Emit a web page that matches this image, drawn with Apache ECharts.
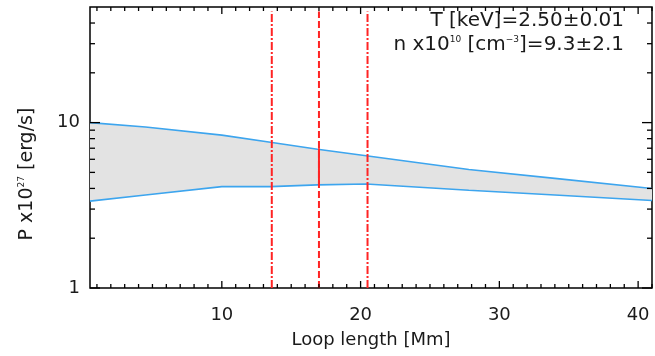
<!DOCTYPE html>
<html>
<head>
<meta charset="utf-8">
<script src="https://cdn.jsdelivr.net/npm/echarts@6/dist/echarts.min.js"></script>
<style>
  html, body { margin: 0; padding: 0; background: #fff; }
  #chart { width: 655px; height: 356px; }
</style>
</head>
<body>
<div id="chart"></div>
<script>
// loop length samples [Mm] and band edges P x10^27 [erg/s]
const loopLen = [0.5, 4.5, 10, 13.5, 16.9, 20.4, 27.8, 34, 41];
const powerUpper = [10.0, 9.4, 8.4, 7.6, 6.9, 6.3, 5.2, 4.6, 4.0];
const powerLower = [3.35, 3.65, 4.1, 4.1, 4.2, 4.25, 3.9, 3.65, 3.38];

// red vertical markers
const markLeft = 13.6;
const markMid = 17.0;
const markRight = 20.5;
const markSpan = [1, 47];
const midSolid = [4.2, 7.0];

// ticks
const xMajor = [10, 20, 30, 40];
const xMinor = [];
for (let i = 1; i <= 41; i++) if (i % 10 !== 0) xMinor.push(i);
const yMajor = [1, 10];
const yMinor = [2, 3, 4, 5, 6, 7, 8, 9, 20, 30, 40];

const xMin = 0.5, xMax = 41, yMin = 1, yMax = 50;

const FONT = "DejaVu Sans";
const ink = "#1a1a1a";
const blue = "#3da5ee";
const red = "#ff2424";

const chart = echarts.init(document.getElementById("chart"), null, { renderer: "canvas" });

function vline(x, y0, y1, type) {
  return {
    type: "line", symbol: "none", silent: true, z: 5,
    data: [[x, y0], [x, y1]],
    lineStyle: { color: red, width: 2, type: type }
  };
}

// all the inward ticks on the four sides, placed through the axis scales
function drawTicks(params, api) {
  const kids = [];
  const st = { stroke: "#000", lineWidth: 1.3 };
  function seg(a, b) {
    kids.push({ type: "line", shape: { x1: a[0], y1: a[1], x2: b[0], y2: b[1] }, style: st });
  }
  function xt(v, len) {
    const b = api.coord([v, yMin]), t = api.coord([v, yMax]);
    seg([b[0], b[1]], [b[0], b[1] - len]);
    seg([t[0], t[1]], [t[0], t[1] + len]);
  }
  function yt(v, len) {
    const l = api.coord([xMin, v]), r = api.coord([xMax, v]);
    seg([l[0], l[1]], [l[0] + len, l[1]]);
    seg([r[0], r[1]], [r[0] - len, r[1]]);
  }
  xMajor.forEach(v => xt(v, 7));
  xMinor.forEach(v => xt(v, 4));
  yMajor.forEach(v => yt(v, 10));
  yMinor.forEach(v => yt(v, 5));
  return { type: "group", children: kids };
}

function drawBand(params, api) {
  const pts = [];
  loopLen.forEach((x, i) => pts.push(api.coord([x, powerUpper[i]])));
  for (let i = loopLen.length - 1; i >= 0; i--) pts.push(api.coord([loopLen[i], powerLower[i]]));
  return { type: "polygon", shape: { points: pts }, style: { fill: "#e3e3e3" } };
}

chart.setOption({
  animation: false,
  backgroundColor: "#fff",
  grid: { left: 90, right: 3, top: 7, bottom: 68, show: true, borderColor: "#000", borderWidth: 1.5, backgroundColor: "transparent" },
  xAxis: {
    type: "value", min: xMin, max: xMax,
    axisLine: { show: false },
    axisTick: { show: false },
    axisLabel: { show: true, customValues: xMajor, fontSize: 18, fontFamily: FONT, color: ink, margin: 18 },
    splitLine: { show: false },
    name: "Loop length [Mm]",
    nameLocation: "middle",
    nameGap: 43,
    nameTextStyle: { fontSize: 18, fontFamily: FONT, color: ink }
  },
  yAxis: {
    type: "log", logBase: 10, min: yMin, max: yMax,
    axisLine: { show: false },
    axisTick: { show: false },
    axisLabel: { show: true, customValues: yMajor, fontSize: 18, fontFamily: FONT, color: ink, margin: 10 },
    splitLine: { show: false },
    minorTick: { show: false }
  },
  series: [
    { type: "custom", silent: true, z: 2, data: [[xMin, yMin]], renderItem: drawBand },
    {
      type: "line", symbol: "none", silent: true, z: 3,
      data: loopLen.map((x, i) => [x, powerLower[i]]),
      lineStyle: { color: blue, width: 1.6 }
    },
    {
      type: "line", symbol: "none", silent: true, z: 3,
      data: loopLen.map((x, i) => [x, powerUpper[i]]),
      lineStyle: { color: blue, width: 1.6 }
    },
    vline(markLeft, markSpan[0], markSpan[1], [8, 2, 2, 2]),
    vline(markMid, markSpan[0], markSpan[1], [7, 3]),
    vline(markMid, midSolid[0], midSolid[1], "solid"),
    vline(markRight, markSpan[0], markSpan[1], [8, 2, 2, 2]),
    { type: "custom", silent: true, z: 8, clip: false, data: [[xMin, yMin]], renderItem: drawTicks }
  ],
  graphic: [
    {
      type: "text", x: 624, y: 21, z: 10,
      style: { text: "T [keV]=2.50±0.01", font: "20px " + FONT, fill: ink, align: "right", verticalAlign: "middle" }
    },
    {
      type: "text", x: 624, y: 45, z: 10,
      style: {
        text: "n x10{s|10} [cm{s|−3}]=9.3±2.1",
        font: "20px " + FONT, fill: ink, align: "right", verticalAlign: "middle",
        rich: { s: { fontSize: 9, fontFamily: FONT, fill: ink, verticalAlign: "top" } }
      }
    },
    {
      type: "text", x: 27, y: 174, rotation: Math.PI / 2, z: 10,
      style: {
        text: "P x10{s|27} [erg/s]",
        font: "19px " + FONT, fill: ink, align: "center", verticalAlign: "middle",
        rich: { s: { fontSize: 9, fontFamily: FONT, fill: ink, verticalAlign: "top" } }
      }
    }
  ]
});
</script>
</body>
</html>
